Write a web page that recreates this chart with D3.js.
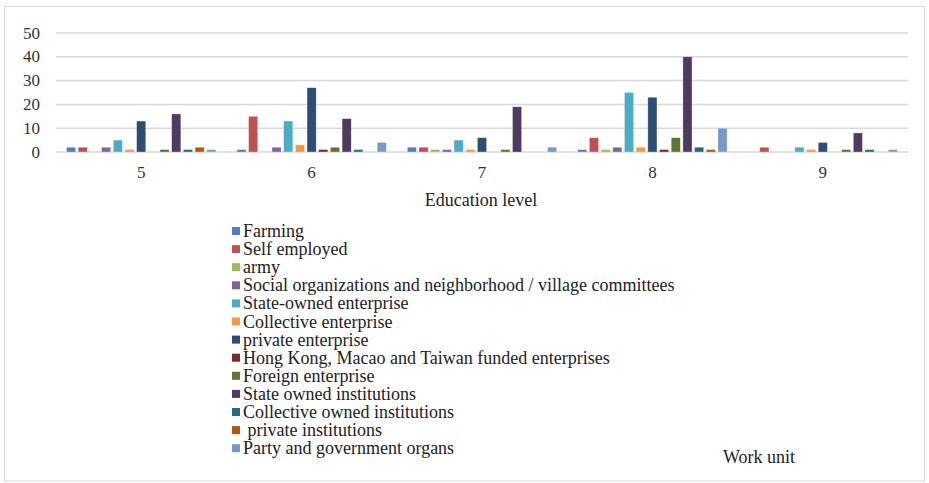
<!DOCTYPE html>
<html lang="en">
<head>
<meta charset="UTF-8">
<title>Work unit by education level</title>
<script src="https://cdn.jsdelivr.net/npm/d3@7/dist/d3.min.js"></script>
<style>
  body { margin: 0; background: #fff; }
  svg text { font-family: 'Liberation Serif'; }
</style>
</head>
<body>
<div id="chart"></div>
<script>
var levels = ['5', '6', '7', '8', '9'];

var series = [
  'Farming', 'Self employed', 'army',
  'Social organizations and neighborhood / village committees',
  'State-owned enterprise', 'Collective enterprise', 'private enterprise',
  'Hong Kong, Macao and Taiwan funded enterprises', 'Foreign enterprise',
  'State owned institutions', 'Collective owned institutions',
  ' private institutions', 'Party and government organs'
];

var colors = ['#4f81bd', '#c0504d', '#9bbb59', '#8064a2', '#4bacc6', '#f79646',
  '#2c4d75', '#772c2a', '#5f7530', '#4d3b62', '#276a7c', '#b65708', '#729aca'];

// one array per series, values for levels 5..9
var farming        = [2, 1, 2, 1, 0];
var selfEmployed   = [2, 15, 2, 6, 2];
var army           = [0, 0, 1, 1, 0];
var socialOrgs     = [2, 2, 1, 2, 0];
var stateEnt       = [5, 13, 5, 25, 2];
var collectiveEnt  = [1, 3, 1, 2, 1];
var privateEnt     = [13, 27, 6, 23, 4];
var hkMacaoTaiwan  = [0, 1, 0, 1, 0];
var foreignEnt     = [1, 2, 1, 6, 1];
var stateInst      = [16, 14, 19, 40, 8];
var collectiveInst = [1, 1, 0, 2, 1];
var privateInst    = [2, 0, 0, 1, 0];
var partyGov       = [1, 4, 2, 10, 1];

var values = [farming, selfEmployed, army, socialOrgs, stateEnt, collectiveEnt,
  privateEnt, hkMacaoTaiwan, foreignEnt, stateInst, collectiveInst, privateInst, partyGov];

var yTicks = [0, 10, 20, 30, 40, 50];

var w = 929, h = 483;
var plotL = 56, plotR = 908, plotT = 33, plotB = 152;

var svg = d3.select('#chart').append('svg')
  .attr('width', w)
  .attr('height', h);

// outer frame
svg.append('rect')
  .attr('x', 4.5).attr('y', 6.5)
  .attr('width', 920).attr('height', 474.5)
  .attr('fill', '#fff')
  .attr('stroke', '#d9d9d9');

var x0 = d3.scaleBand()
  .domain(levels)
  .range([plotL, plotR]);

var x1 = d3.scaleBand()
  .domain(d3.range(series.length))
  .range([0, x0.bandwidth()])
  .paddingOuter(0.9)
  .paddingInner(0.22);

var y = d3.scaleLinear()
  .domain([0, 50])
  .range([plotB, plotT]);

// gridlines
svg.append('g')
  .selectAll('line')
  .data(yTicks)
  .enter().append('line')
  .attr('x1', plotL).attr('x2', plotR)
  .attr('y1', d => y(d)).attr('y2', d => y(d))
  .attr('stroke', '#d9d9d9')
  .attr('stroke-width', 1.5);

// y labels
svg.append('g')
  .selectAll('text')
  .data(yTicks)
  .enter().append('text')
  .attr('x', 40)
  .attr('y', d => y(d) + 5.5)
  .attr('text-anchor', 'end')
  .attr('font-size', '17px')
  .attr('fill', '#333')
  .text(d => d);

// bars
var groups = svg.append('g')
  .selectAll('g')
  .data(levels)
  .enter().append('g')
  .attr('transform', d => 'translate(' + x0(d) + ',0)');

groups.selectAll('rect')
  .data((d, li) => values.map((v, si) => ({ s: si, v: v[li] })).filter(d => d.v > 0))
  .enter().append('rect')
  .attr('x', d => x1(d.s))
  .attr('y', d => y(d.v))
  .attr('width', x1.bandwidth())
  .attr('height', d => y(0) - y(d.v))
  .attr('fill', d => colors[d.s])
  .attr('stroke', '#fff')
  .attr('stroke-opacity', 0.5)
  .attr('stroke-width', 0.6);

// category labels
svg.append('g')
  .selectAll('text')
  .data(levels)
  .enter().append('text')
  .attr('x', d => x0(d) + x0.bandwidth() / 2)
  .attr('y', 178)
  .attr('text-anchor', 'middle')
  .attr('font-size', '17px')
  .attr('fill', '#333')
  .text(d => d);

svg.append('text')
  .attr('x', 481)
  .attr('y', 206)
  .attr('text-anchor', 'middle')
  .attr('font-size', '18px')
  .attr('fill', '#222')
  .text('Education level');

// legend
var legend = svg.append('g')
  .selectAll('g')
  .data(series)
  .enter().append('g')
  .attr('transform', (d, i) => 'translate(232,' + (232 + i * 18.1) + ')');

legend.append('rect')
  .attr('x', 0).attr('y', -5)
  .attr('width', 8).attr('height', 8)
  .attr('fill', (d, i) => colors[i]);

legend.append('text')
  .attr('x', 11)
  .attr('y', 5)
  .attr('font-size', '18px')
  .attr('fill', '#222')
  .style('white-space', 'pre')
  .text(d => d);

svg.append('text')
  .attr('x', 723)
  .attr('y', 463)
  .attr('font-size', '18px')
  .attr('fill', '#222')
  .text('Work unit');
</script>
</body>
</html>
